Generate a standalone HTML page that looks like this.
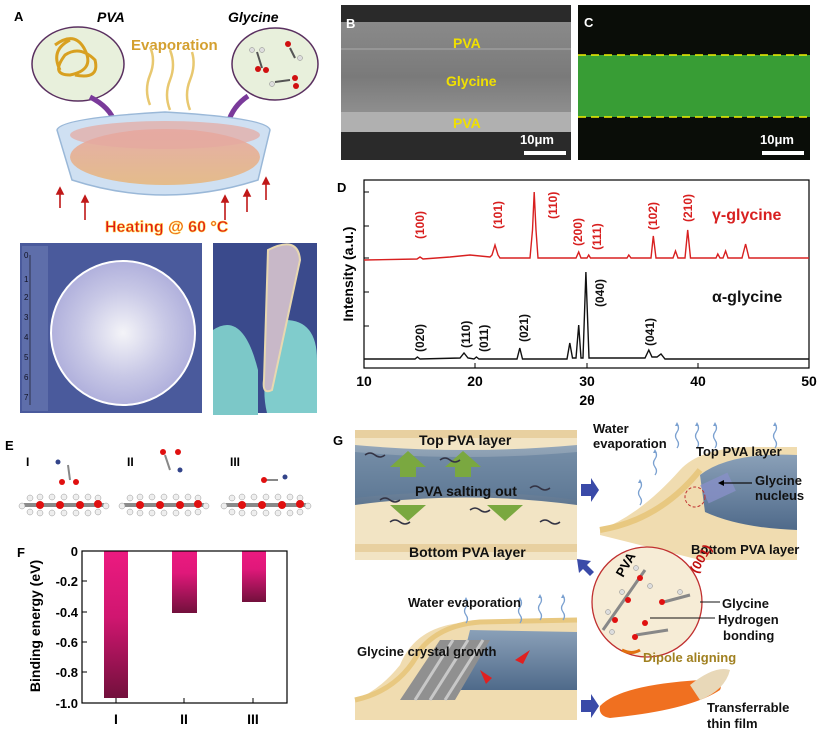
<!DOCTYPE html>
<html><head><meta charset="utf-8"><style>
html,body{margin:0;padding:0;background:#fff;}
svg{display:block;font-family:"Liberation Sans",Arial,sans-serif;}
</style></head><body>
<svg width="831" height="740" viewBox="0 0 831 740" xmlns="http://www.w3.org/2000/svg">
<defs>
<linearGradient id="bar" x1="0" y1="0" x2="0" y2="1"><stop offset="0" stop-color="#ec1a80"/><stop offset="0.45" stop-color="#d01670"/><stop offset="1" stop-color="#72103c"/></linearGradient>
<linearGradient id="barS" x1="0" y1="0" x2="0" y2="1"><stop offset="0" stop-color="#ec1a80"/><stop offset="0.35" stop-color="#e0187a"/><stop offset="1" stop-color="#72103c"/></linearGradient>
<linearGradient id="dish" x1="0" y1="0" x2="0" y2="1"><stop offset="0" stop-color="#e8a8a0"/><stop offset="1" stop-color="#e6b880"/></linearGradient>
<linearGradient id="sem" x1="0" y1="0" x2="0" y2="1"><stop offset="0" stop-color="#8a8a8a"/><stop offset="0.5" stop-color="#7a7a7a"/><stop offset="1" stop-color="#9a9a9a"/></linearGradient>
<radialGradient id="disc" cx="0.5" cy="0.5" r="0.5"><stop offset="0" stop-color="#f4f4f8"/><stop offset="0.6" stop-color="#c8c8e6"/><stop offset="1" stop-color="#b0b0dc"/></radialGradient>
<linearGradient id="water" x1="0" y1="0" x2="0" y2="1"><stop offset="0" stop-color="#8aa0b8"/><stop offset="1" stop-color="#4f6a8a"/></linearGradient>
<g id="chain">
<rect x="0" y="-2" width="80" height="4" fill="#8a8a8a"/>
<g fill="#eee" stroke="#999" stroke-width="0.5">
<circle cx="6" cy="-7" r="3"/><circle cx="16" cy="-8" r="3"/><circle cx="28" cy="-8" r="3"/><circle cx="40" cy="-8" r="3"/><circle cx="52" cy="-8" r="3"/><circle cx="64" cy="-8" r="3"/><circle cx="74" cy="-7" r="3"/>
<circle cx="6" cy="7" r="3"/><circle cx="16" cy="8" r="3"/><circle cx="28" cy="8" r="3"/><circle cx="40" cy="8" r="3"/><circle cx="52" cy="8" r="3"/><circle cx="64" cy="8" r="3"/><circle cx="74" cy="7" r="3"/>
<circle cx="-2" cy="1" r="3"/><circle cx="82" cy="1" r="3"/></g>
<g fill="#e01010"><circle cx="16" cy="0" r="4"/><circle cx="36" cy="0" r="4"/><circle cx="56" cy="0" r="4"/><circle cx="74" cy="-1" r="4"/></g>
</g>
<g id="wavy"><path d="M0 0 q3 -4 0 -8 q-3 -4 0 -8 q3 -4 0 -8" fill="none" stroke="#7aa0d0" stroke-width="1.3"/><path d="M-2 -22 l2 -4 l2 4z" fill="#7aa0d0"/></g>
</defs>

<!-- ===== Panel A ===== -->
<text x="14" y="21" font-size="13" font-weight="bold">A</text>
<text x="97" y="22" font-size="14" font-weight="bold" font-style="italic">PVA</text>
<text x="228" y="22" font-size="14" font-weight="bold" font-style="italic">Glycine</text>
<text x="131" y="50" font-size="15" font-weight="bold" fill="#d4a030">Evaporation</text>
<ellipse cx="78" cy="64" rx="46" ry="37" fill="#e8f0dc" stroke="#5a3060" stroke-width="1.5"/>
<ellipse cx="275" cy="64" rx="43" ry="36" fill="#e8f0dc" stroke="#5a3060" stroke-width="1.5"/>
<path d="M55 45 q20 -15 30 5 q10 20 -15 25 q-20 0 -5 -20 q15 -10 30 5 q5 20 -20 15 M60 70 q-10 -20 10 -30" fill="none" stroke="#d8a020" stroke-width="3"/>
<g stroke="#555" stroke-width="2"><line x1="257" y1="52" x2="262" y2="68"/><line x1="290" y1="48" x2="295" y2="58"/><line x1="275" y1="82" x2="290" y2="80"/></g>
<g fill="#d01010"><circle cx="258" cy="69" r="3"/><circle cx="266" cy="70" r="3"/><circle cx="288" cy="44" r="3"/><circle cx="295" cy="78" r="3"/><circle cx="296" cy="86" r="3"/></g>
<g fill="#ddd" stroke="#888" stroke-width=".5"><circle cx="252" cy="50" r="2.5"/><circle cx="262" cy="50" r="2.5"/><circle cx="300" cy="58" r="2.5"/><circle cx="272" cy="84" r="2.5"/></g>
<path d="M90 97 q20 10 25 26" fill="none" stroke="#7a3a9a" stroke-width="5"/><path d="M106 120 l12 10 l2 -14z" fill="#7a3a9a"/>
<path d="M248 96 q-15 10 -20 27" fill="none" stroke="#7a3a9a" stroke-width="5"/><path d="M219 118 l6 14 l9 -12z" fill="#7a3a9a"/>
<path d="M150 105 q-6 -15 0 -30 q6 -15 0 -28 M170 110 q-6 -15 0 -30 q6 -15 0 -30 M190 110 q-6 -15 0 -30 q6 -15 2 -28" fill="none" stroke="#e8c870" stroke-width="2.5"/>
<path d="M57 130 Q60 118 165 112 Q268 118 270 130 L258 180 Q165 210 72 180 Z" fill="#cfe0f2" stroke="#9ab8d8" stroke-width="1.5"/>
<ellipse cx="165" cy="157" rx="95" ry="28" fill="url(#dish)" opacity="0.9"/>
<ellipse cx="165" cy="135" rx="95" ry="14" fill="#e6a8a0" opacity="0.7"/>
<g stroke="#c01818" stroke-width="1.6" fill="#c01818">
<line x1="60" y1="208" x2="60" y2="192"/><line x1="85" y1="220" x2="85" y2="200"/><line x1="225" y1="220" x2="225" y2="200"/><line x1="247" y1="212" x2="247" y2="194"/><line x1="266" y1="200" x2="266" y2="182"/>
<path d="M57 194 l3 -6 l3 6z M82 202 l3 -6 l3 6z M222 202 l3 -6 l3 6z M244 196 l3 -6 l3 6z M263 184 l3 -6 l3 6z"/></g>
<text x="105" y="232" font-size="16" font-weight="bold" fill="#e01818" stroke="#ffd840" stroke-width="0.6">Heating @ 60 °C</text>

<!-- photos -->
<rect x="20" y="243" width="182" height="170" fill="#4a5a9c"/>
<rect x="22" y="246" width="26" height="165" fill="#5e6eaa"/>
<g stroke="#223" stroke-width="0.8"><line x1="30" y1="255" x2="30" y2="405"/></g>
<g font-size="8" fill="#112" ><text x="24" y="258">0</text><text x="24" y="282">1</text><text x="24" y="300">2</text><text x="24" y="320">3</text><text x="24" y="340">4</text><text x="24" y="360">5</text><text x="24" y="380">6</text><text x="24" y="400">7</text></g>
<circle cx="123" cy="333" r="72" fill="url(#disc)" stroke="#fff" stroke-width="2"/>
<rect x="213" y="243" width="104" height="170" fill="#3a4a8c"/>
<path d="M213 330 q30 -20 45 40 l0 45 l-45 0z" fill="#7cc8c8"/>
<path d="M285 320 q32 0 32 40 l0 53 l-50 0 q-10 -40 18 -93z" fill="#80cccc"/>
<path d="M268 250 q30 -15 32 10 l-28 130 q-10 5 -8 -10z" fill="#c8b8c8" stroke="#e8d8b0" stroke-width="2"/>

<!-- ===== Panel B ===== -->
<rect x="341" y="5" width="230" height="155" fill="#2a2a2a"/>
<rect x="341" y="22" width="230" height="110" fill="url(#sem)"/>
<rect x="341" y="112" width="230" height="20" fill="#b0b0b0"/>
<line x1="341" y1="49" x2="571" y2="49" stroke="#aaa"/>
<text x="346" y="28" font-size="13" font-weight="bold" fill="#fff">B</text>
<text x="453" y="48" font-size="14" font-weight="bold" fill="#f0e000">PVA</text>
<text x="446" y="86" font-size="14" font-weight="bold" fill="#f0e000">Glycine</text>
<text x="453" y="128" font-size="14" font-weight="bold" fill="#f0e000">PVA</text>
<text x="520" y="144" font-size="13" font-weight="bold" fill="#fff">10μm</text>
<rect x="524" y="151" width="42" height="4" fill="#fff"/>

<!-- ===== Panel C ===== -->
<rect x="578" y="5" width="232" height="155" fill="#0a0d08"/>
<rect x="578" y="55" width="232" height="62" fill="#2a8a2a"/>
<rect x="578" y="55" width="232" height="62" fill="#46b040" opacity="0.5"/>
<line x1="578" y1="55" x2="810" y2="55" stroke="#f0f000" stroke-width="1.5" stroke-dasharray="8,5"/>
<line x1="578" y1="117" x2="810" y2="117" stroke="#f0f000" stroke-width="1.5" stroke-dasharray="8,5"/>
<text x="584" y="27" font-size="13" font-weight="bold" fill="#fff">C</text>
<text x="760" y="144" font-size="13" font-weight="bold" fill="#fff">10μm</text>
<rect x="762" y="151" width="42" height="4" fill="#fff"/>

<!-- ===== Panel D ===== -->
<text x="337" y="192" font-size="13" font-weight="bold">D</text>
<rect x="364" y="180" width="445" height="188" fill="none" stroke="#000" stroke-width="1.2"/>
<g stroke="#000" stroke-width="1"><line x1="364" y1="192" x2="369" y2="192"/><line x1="364" y1="226" x2="369" y2="226"/><line x1="364" y1="258" x2="369" y2="258"/><line x1="364" y1="292" x2="369" y2="292"/><line x1="364" y1="326" x2="369" y2="326"/><line x1="364" y1="359" x2="369" y2="359"/>
<line x1="475" y1="368" x2="475" y2="363"/><line x1="587" y1="368" x2="587" y2="363"/><line x1="698" y1="368" x2="698" y2="363"/></g>
<path d="M364 260 L417 259 L420 257 L423 259 L450 257 L470 255 L490 257 L492 255 L495 245 L498 255 L500 258 L530 258 L532.5 230 L534.2 192 L536 230 L538 258 L576 258 L578.7 252 L581 258 L587 258 L588.7 255 L590.5 258 L627 258 L628.8 255 L631 258 L651 258 L653.3 236 L656 258 L673 258 L675.5 251 L678 258 L685 258 L687.7 230 L690.5 258 L716 258 L717.8 254 L720 258 L723 258 L725.6 251 L728 258 L742 258 L745.6 244 L749 258 L809 258" fill="none" stroke="#d82020" stroke-width="1.4"/>
<path d="M364 359 L415 359 L417.4 357 L420 359 L460 358 L464 353 L468 358 L474 359 L476.4 357 L479 359 L517 359 L519.8 348 L522.5 359 L567 359 L569.8 343 L572.5 358 L576 358 L578.7 325 L581 358 L583 358 L585.9 272 L589 358 L645 358 L648.8 350 L652 357 L657 357 L661 354 L665 359 L809 359" fill="none" stroke="#111" stroke-width="1.4"/>
<g font-size="12" font-weight="bold" fill="#d82020">
<text transform="translate(424,239) rotate(-90)">(100)</text>
<text transform="translate(502,229) rotate(-90)">(101)</text>
<text transform="translate(557,219) rotate(-90)">(110)</text>
<text transform="translate(582,246) rotate(-90)">(200)</text>
<text transform="translate(601,250) rotate(-90)">(111)</text>
<text transform="translate(657,230) rotate(-90)">(102)</text>
<text transform="translate(692,222) rotate(-90)">(210)</text>
<text x="712" y="220" font-size="16">γ-glycine</text></g>
<g font-size="12" font-weight="bold" fill="#111">
<text transform="translate(424,352) rotate(-90)">(020)</text>
<text transform="translate(470,348) rotate(-90)">(110)</text>
<text transform="translate(488,352) rotate(-90)">(011)</text>
<text transform="translate(528,342) rotate(-90)">(021)</text>
<text transform="translate(604,307) rotate(-90)">(040)</text>
<text transform="translate(654,346) rotate(-90)">(041)</text>
<text x="712" y="302" font-size="16">α-glycine</text></g>
<g font-size="14" font-weight="bold" text-anchor="middle"><text x="364" y="386">10</text><text x="475" y="386">20</text><text x="587" y="386">30</text><text x="698" y="386">40</text><text x="809" y="386">50</text><text x="587" y="405">2θ</text>
<text transform="translate(353,274) rotate(-90)" font-size="14">Intensity (a.u.)</text></g>

<!-- ===== Panel E ===== -->
<text x="5" y="450" font-size="13" font-weight="bold">E</text>
<g font-size="12" font-weight="bold"><text x="26" y="466">I</text><text x="127" y="466">II</text><text x="230" y="466">III</text></g>
<use href="#chain" x="24" y="505"/><use href="#chain" x="124" y="505"/><use href="#chain" x="226" y="505"/>
<g stroke="#888" stroke-width="2"><line x1="68" y1="465" x2="70" y2="480"/><line x1="165" y1="455" x2="170" y2="470"/><line x1="262" y1="480" x2="278" y2="480"/></g>
<g fill="#e01010"><circle cx="62" cy="482" r="3"/><circle cx="76" cy="482" r="3"/><circle cx="163" cy="452" r="3"/><circle cx="178" cy="452" r="3"/><circle cx="264" cy="480" r="3"/></g>
<circle cx="58" cy="462" r="2.5" fill="#33448a"/><circle cx="180" cy="470" r="2.5" fill="#33448a"/><circle cx="285" cy="477" r="2.5" fill="#33448a"/>

<!-- ===== Panel F ===== -->
<text x="17" y="557" font-size="13" font-weight="bold">F</text>
<rect x="104" y="551" width="24" height="147" fill="url(#bar)"/>
<rect x="172" y="551" width="25" height="62" fill="url(#barS)"/>
<rect x="242" y="551" width="24" height="51" fill="url(#barS)"/>
<rect x="82" y="551" width="205" height="152" fill="none" stroke="#000" stroke-width="1.2"/>
<g stroke="#000"><line x1="82" y1="581" x2="87" y2="581"/><line x1="82" y1="612" x2="87" y2="612"/><line x1="82" y1="642" x2="87" y2="642"/><line x1="82" y1="672" x2="87" y2="672"/>
<line x1="116" y1="703" x2="116" y2="698"/><line x1="184" y1="703" x2="184" y2="698"/><line x1="253" y1="703" x2="253" y2="698"/></g>
<g font-size="13" font-weight="bold" text-anchor="end"><text x="78" y="556">0</text><text x="78" y="586">-0.2</text><text x="78" y="617">-0.4</text><text x="78" y="647">-0.6</text><text x="78" y="677">-0.8</text><text x="78" y="708">-1.0</text></g>
<g font-size="14" font-weight="bold" text-anchor="middle"><text x="116" y="724">I</text><text x="184" y="724">II</text><text x="253" y="724">III</text>
<text transform="translate(40,626) rotate(-90)" font-size="14">Binding energy (eV)</text></g>

<!-- ===== Panel G ===== -->
<text x="333" y="445" font-size="13" font-weight="bold">G</text>
<rect x="355" y="430" width="222" height="130" fill="#f2e4c4"/>
<rect x="355" y="430" width="222" height="8" fill="#e8d0a0"/>
<rect x="355" y="544" width="222" height="8" fill="#e8d0a0"/>
<path d="M355 445 Q466 455 577 445 L577 505 Q466 490 355 505 Z" fill="url(#water)" opacity="0.9"/>
<path d="M355 452 Q466 462 577 452 L577 500 Q466 485 355 498 Z" fill="#5a7898" opacity="0.5"/>
<g fill="#7aa840"><path d="M400 477 l0 -10 l-10 0 l18 -16 l18 16 l-10 0 l0 10z"/><path d="M455 477 l0 -10 l-10 0 l18 -16 l18 16 l-10 0 l0 10z"/><path d="M390 505 l18 16 l18 -16z"/><path d="M487 505 l18 16 l18 -16z"/></g>
<g stroke="#334" stroke-width="1.5" fill="none"><path d="M365 455 q5 -4 10 0 q5 4 10 0"/><path d="M440 460 q5 -4 10 0 q5 4 10 0"/><path d="M530 488 q5 -4 10 0 q5 4 10 0"/><path d="M380 500 q5 -4 10 0 q5 4 10 0"/><path d="M470 510 q5 -4 10 0 q5 4 10 0"/><path d="M390 522 q5 -4 10 0 q5 4 10 0"/><path d="M540 522 q5 -4 10 0 q5 4 10 0"/></g>
<g font-size="14" font-weight="bold" fill="#111"><text x="419" y="445">Top PVA layer</text><text x="415" y="496">PVA salting out</text><text x="409" y="557">Bottom PVA layer</text></g>
<path d="M581 484 l10 0 l0 -6 l8 12 l-8 12 l0 -6 l-10 0z" fill="#3a4aa8"/>
<!-- top right -->
<path d="M600 530 Q640 515 680 470 Q700 448 750 447 L797 447 L797 560 L700 560 Q640 545 600 535 Z" fill="#f0dcb0"/>
<path d="M700 475 Q730 452 797 455 L797 530 Q740 528 705 512 Z" fill="url(#water)"/>
<path d="M600 530 Q660 520 700 470" fill="none" stroke="#e8c880" stroke-width="6"/>
<g fill="#8890c8" opacity="0.8"><rect x="703" y="478" width="30" height="20" transform="rotate(-25 718 488)"/></g>
<circle cx="695" cy="497" r="10" fill="none" stroke="#c03030" stroke-dasharray="3,2"/>
<use href="#wavy" x="677" y="448"/><use href="#wavy" x="697" y="448"/><use href="#wavy" x="715" y="448"/><use href="#wavy" x="775" y="448"/><use href="#wavy" x="655" y="475"/><use href="#wavy" x="640" y="505"/>
<g font-size="13" font-weight="bold" fill="#111"><text x="593" y="433">Water</text><text x="593" y="448">evaporation</text><text x="696" y="456">Top PVA layer</text><text x="755" y="485">Glycine</text><text x="755" y="500">nucleus</text><text x="691" y="554">Bottom PVA layer</text></g>
<line x1="720" y1="483" x2="752" y2="483" stroke="#111" stroke-width="1.3"/><path d="M718 483 l6 -3 l0 6z"/>
<!-- circle -->
<circle cx="647" cy="602" r="55" fill="#f6ecd6" stroke="#c03030" stroke-width="1.3"/>
<g fill="#999" stroke="#888" stroke-width="3"><line x1="603" y1="630" x2="645" y2="570"/><line x1="660" y1="603" x2="690" y2="595"/><line x1="636" y1="635" x2="668" y2="630"/></g>
<g fill="#e01010"><circle cx="615" cy="620" r="3"/><circle cx="628" cy="600" r="3"/><circle cx="640" cy="578" r="3"/><circle cx="662" cy="602" r="3"/><circle cx="645" cy="623" r="3"/><circle cx="635" cy="637" r="3"/></g>
<g fill="#ddd" stroke="#888" stroke-width=".5"><circle cx="608" cy="612" r="2.5"/><circle cx="622" cy="592" r="2.5"/><circle cx="636" cy="568" r="2.5"/><circle cx="612" cy="632" r="2.5"/><circle cx="650" cy="586" r="2.5"/><circle cx="680" cy="592" r="2.5"/></g>
<text transform="translate(623,578) rotate(-60)" font-size="13" font-weight="bold">PVA</text>
<text transform="translate(697,574) rotate(-60)" font-size="13" font-weight="bold" fill="#c01010">(001)</text>
<path d="M622 650 q10 5 18 0" fill="none" stroke="#e07010" stroke-width="3"/>
<line x1="650" y1="618" x2="715" y2="618" stroke="#111"/><line x1="700" y1="602" x2="720" y2="602" stroke="#111"/>
<g font-size="13" font-weight="bold" fill="#111"><text x="722" y="608">Glycine</text><text x="718" y="624">Hydrogen</text><text x="723" y="640">bonding</text></g>
<text x="643" y="662" font-size="13" font-weight="bold" fill="#a08020">Dipole aligning</text>
<path d="M590 576 l-7 -7 l-4 4 l-2 -14 l14 2 l-4 4 l7 7z" fill="#3a4aa8"/>
<!-- bottom left -->
<path d="M355 700 Q380 690 400 665 Q415 628 460 623 L577 622 L577 720 L355 720 Z" fill="#f0dcb0"/>
<path d="M470 630 L577 632 L577 690 L455 690 Z" fill="url(#water)"/>
<path d="M400 700 L440 640 L490 640 L455 700 Z" fill="#909090"/>
<g stroke="#c8c8c8" stroke-width="3"><line x1="415" y1="700" x2="453" y2="640"/><line x1="430" y1="700" x2="468" y2="640"/><line x1="445" y1="700" x2="483" y2="640"/></g>
<path d="M355 700 Q400 690 420 650 Q440 625 480 622 L577 620" fill="none" stroke="#e8c880" stroke-width="5"/>
<path d="M530 650 l-15 10 l8 4 z" fill="#e02020"/><path d="M480 670 l12 8 l-6 6 z" fill="#e02020"/>
<use href="#wavy" x="466" y="623"/><use href="#wavy" x="520" y="623"/><use href="#wavy" x="540" y="620"/><use href="#wavy" x="563" y="620"/>
<g font-size="13" font-weight="bold" fill="#111"><text x="408" y="607">Water evaporation</text><text x="357" y="656">Glycine crystal growth</text></g>
<path d="M581 700 l10 0 l0 -6 l8 12 l-8 12 l0 -6 l-10 0z" fill="#3a4aa8"/>
<path d="M600 706 Q620 685 700 680 Q725 680 720 690 Q690 710 610 718 Q598 716 600 706Z" fill="#f07020"/>
<path d="M690 685 Q715 665 730 670 Q725 690 700 700Z" fill="#e8d8b8"/>
<g font-size="13" font-weight="bold" fill="#111"><text x="707" y="712">Transferrable</text><text x="707" y="728">thin film</text></g>
</svg>
</body></html>
